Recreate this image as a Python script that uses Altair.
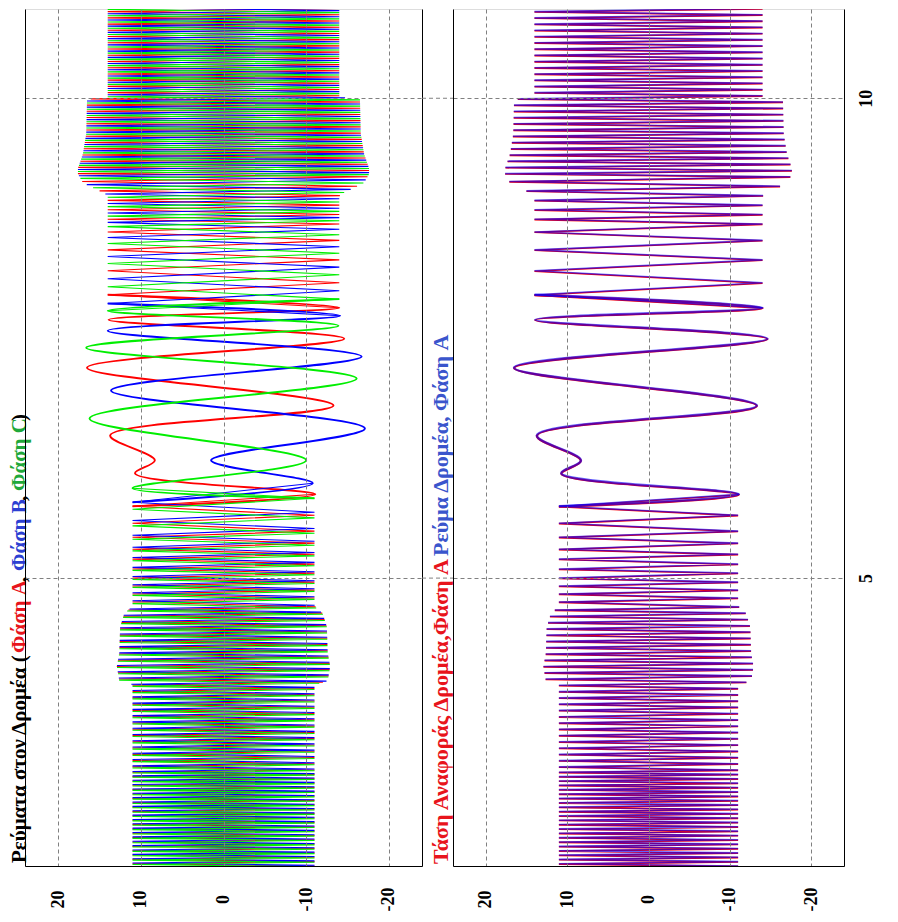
import altair as alt
import numpy as np
import pandas as pd

# ---------------- values ----------------
T_DOMAIN = [2.0, 10.93]          # time axis (vertical, increasing upward)
V_DOMAIN = [-24, 24]             # current axis (horizontal, reversed)
TIME_TICKS = [5, 10]
VALUE_TICKS = [-20, -10, 0, 10, 20]

# envelope of the dense oscillation: time, peak amplitude
env_t = [1.9, 3.89, 3.93, 4.08, 4.22, 4.49, 4.63, 4.69, 4.72, 6.0, 7.8, 8.98, 9.01,
         9.06, 9.12, 9.21, 9.27, 9.42, 9.63, 9.99, 10.01, 11.1]
env_a = [11.0, 11.0, 12.6, 12.9, 12.6, 12.5, 12.0, 11.2, 11.0, 11.0, 14.0, 14.0, 14.4,
         15.6, 17.0, 17.6, 17.6, 17.0, 16.6, 16.5, 14.0, 14.0]

# dense stretches: start time, end time, number of swings counted
dense_low = [(1.955, 3.0, 46), (3.0, 4.70, 52)]
dense_high = [(8.690, 9.182, 10), (9.182, 11.0, 56)]
# swings that can be read one by one (phase A)
swing_low_a = [4.751, 4.792, 4.834, 4.875, 4.917, 4.958, 5.000, 5.052, 5.094, 5.146,
               5.198, 5.249, 5.301, 5.364, 5.426, 5.489, 5.572, 5.655, 5.748]
swing_high_a = [7.952, 8.077, 8.202, 8.316, 8.420, 8.519, 8.607, 8.690]

# slow part: turning points (time, current) of each phase
slow_a_t = [5.873, 6.091, 6.227, 6.487, 6.798, 7.193, 7.495, 7.692, 7.817]
slow_a_v = [-11.1, 10.7, 8.3, 13.7, -13.3, 16.5, -14.6, 13.9, -14.0]
slow_b_t = [5.988, 6.227, 6.559, 6.954, 7.308, 7.578, 7.734]
slow_b_v = [-10.8, 1.5, -17.1, 13.6, -16.7, 14.0, -14.1]
slow_c_t = [5.936, 6.227, 6.663, 7.079, 7.401, 7.630, 7.786]
slow_c_v = [11.0, -10.0, 16.2, -16.1, 16.6, -13.9, 14.0]

# the reference voltage runs just ahead of the measured current (seconds)
VREF_LEAD = 0.004

# ---------------- build the tables ----------------
def _grid(stretches, extra, extra_first):
    pts = list(extra) if extra_first else []
    for a, b, n in stretches:
        pts += list(np.linspace(a, b, n + 1))
    if not extra_first:
        pts += list(extra)
    return np.unique(np.round(pts, 4))

LOW = _grid(dense_low, swing_low_a, False)
HIGH = _grid(dense_high, swing_high_a, True)
LOW_STEP = np.append(LOW[1:], slow_a_t[0]) - LOW
HIGH_STEP = HIGH - np.insert(HIGH[:-1], 0, slow_a_t[-1])


def phase(slow_t, slow_v, low_frac, high_frac, lead=0.0):
    lo = LOW + low_frac * LOW_STEP
    lo = lo[lo < slow_t[0] - 0.02]
    hi = HIGH - high_frac * HIGH_STEP
    hi = hi[hi > slow_t[-1] + 0.02]
    n = len(lo)
    lo_sign = -np.sign(slow_v[0]) * (-1.0) ** (n - 1 - np.arange(n))
    hi_sign = -np.sign(slow_v[-1]) * (-1.0) ** np.arange(len(hi))
    lo_v = lo_sign * np.interp(lo, env_t, env_a)
    hi_v = hi_sign * np.interp(hi, env_t, env_a)
    st, sv = np.asarray(slow_t), np.asarray(slow_v)
    dense = pd.concat([
        pd.DataFrame({"t": np.append(lo, st[0]), "v": np.append(lo_v, sv[0]), "seg": 0}),
        pd.DataFrame({"t": np.insert(hi, 0, st[-1]), "v": np.insert(hi_v, 0, sv[-1]), "seg": 1}),
    ], ignore_index=True)
    slow = pd.DataFrame({"t": np.concatenate([[lo[-1]], st, [hi[0]]]),
                         "v": np.concatenate([[lo_v[-1]], sv, [hi_v[0]]]), "seg": 2})
    dense["t"] -= lead
    slow["t"] -= lead
    dense["i"] = np.arange(len(dense))
    slow["i"] = np.arange(len(slow))
    return dense, slow


A_DENSE, A_SLOW = phase(slow_a_t, slow_a_v, 0.0, 0.0)
B_DENSE, B_SLOW = phase(slow_b_t, slow_b_v, 1 / 3, 2 / 3)
C_DENSE, C_SLOW = phase(slow_c_t, slow_c_v, 2 / 3, 1 / 3)
V_DENSE, V_SLOW = phase(slow_a_t, slow_a_v, 0.0, 0.0, VREF_LEAD)
df_axis = pd.DataFrame({"t": [5.0], "v": [0.0]})
df_ticks = pd.DataFrame({"t": TIME_TICKS})

# ---------------- styling ----------------
FONT = "Liberation Serif"
RED, BLUE, GREEN = "#ff0000", "#0000ff", "#00ee00"
T_RED, T_BLUE, T_GREEN = "#e8141c", "#2c3fd2", "#1fa83a"
GRID_COLOR = "#808080"
GRID_DASH = [4, 3]
GRID = dict(grid=True, gridColor=GRID_COLOR, gridDash=GRID_DASH, gridWidth=1)
H = 857


def x_enc():
    return alt.X(
        "v:Q",
        scale=alt.Scale(domain=V_DOMAIN, reverse=True, nice=False, zero=False),
        axis=alt.Axis(values=VALUE_TICKS, orient="bottom", title=None, labelAngle=270,
                      labelAlign="center", labelBaseline="middle", labelPadding=33,
                      ticks=False, tickSize=0, domain=True, domainColor="black",
                      domainWidth=1, labelFont=FONT, labelFontWeight="bold",
                      labelFontSize=18, labelColor="black",
                      labelExpr="'' + datum.value", labelOverlap=False,
                      labelFlush=False, zindex=1, **GRID),
    )


def y_scale():
    return alt.Scale(domain=T_DOMAIN, nice=False, zero=False)


def y_plain():
    return alt.Y("t:Q", scale=y_scale(), axis=None)


def line(df, color, width, opacity=1.0, interp="linear"):
    return alt.Chart(df).mark_line(
        color=color, strokeWidth=width, opacity=opacity, strokeJoin="miter",
        interpolate=interp, clip=True,
    ).encode(x=x_enc(), y=y_plain(), detail="seg:N", order="i:Q")


def wave(dense, slow, color, w_dense, w_slow, opacity=1.0):
    return [line(dense, color, w_dense, opacity),
            line(slow, color, w_slow, opacity, "catmull-rom")]


def side_axis(orient, labels, grid):
    ax = dict(values=TIME_TICKS, orient=orient, title=None, ticks=False, tickSize=0,
              domain=True, domainColor="black", domainWidth=1, zindex=1,
              labels=labels)
    if labels:
        ax.update(labelAngle=270, labelAlign="center", labelBaseline="top",
                  labelPadding=13, labelFont=FONT, labelFontWeight="bold",
                  labelFontSize=18, labelColor="black", labelExpr="'' + datum.value")
    if grid:
        ax.update(GRID)
    else:
        ax.update(grid=False)
    return alt.Chart(df_axis).mark_point(opacity=0).encode(
        x=x_enc(), y=alt.Y("t:Q", scale=y_scale(), axis=alt.Axis(**ax)))


def label(text, color, x, y, size):
    return alt.Chart(df_axis).mark_text(
        text=text, angle=270, align="left", baseline="middle", font=FONT,
        fontWeight="bold", fontSize=size, color=color,
    ).encode(x=alt.value(x), y=alt.value(y))


# time grid lines continue through the gap between the panels
gap_grid = alt.Chart(df_ticks).mark_rule(
    color=GRID_COLOR, strokeDash=GRID_DASH, strokeWidth=1
).encode(x=alt.value(-31), x2=alt.value(0), y=y_plain())

# left panel: rotor currents, three phases
left_titles = [
    ("Ρεύματα στον Δρομέα (", "black", 854),
    ("Φάση A", T_RED, 644),
    (",", "black", 573),
    ("Φάση B", T_BLUE, 562),
    (",", "black", 492),
    ("Φάση C", T_GREEN, 482),
    (")", "black", 412),
]
left = alt.layer(
    side_axis("left", False, False),
    side_axis("right", False, True),
    *wave(A_DENSE, A_SLOW, RED, 1.1, 1.9),
    *wave(B_DENSE, B_SLOW, BLUE, 1.1, 1.9),
    *wave(C_DENSE, C_SLOW, GREEN, 1.1, 1.9),
    *[label(t, c, -5, y, 21) for t, c, y in left_titles],
).resolve_axis(y="independent").properties(width=397, height=H)

# right panel: reference voltage and rotor current, phase A
right_titles = [
    ("Τάση Αναφοράς Δρομέα,Φάση A", T_RED, 855),
    ("Ρεύμα Δρομέα, Φάση A", "#3a55cc", 547),
]
right = alt.layer(
    side_axis("left", False, False),
    side_axis("right", True, True),
    gap_grid,
    *wave(V_DENSE, V_SLOW, RED, 1.6, 2.2),
    *wave(A_DENSE, A_SLOW, BLUE, 1.6, 2.5, 0.62),
    *[label(t, c, -12, y, 22) for t, c, y in right_titles],
).resolve_axis(y="independent").properties(width=391, height=H)

chart = alt.hconcat(left, right, spacing=31, bounds="flush").properties(
    padding={"left": 0, "top": 0, "right": 0, "bottom": 0}
).configure_view(stroke=None).configure(background="white")

chart.save("out.html", embed_options={"renderer": "svg", "actions": False})
